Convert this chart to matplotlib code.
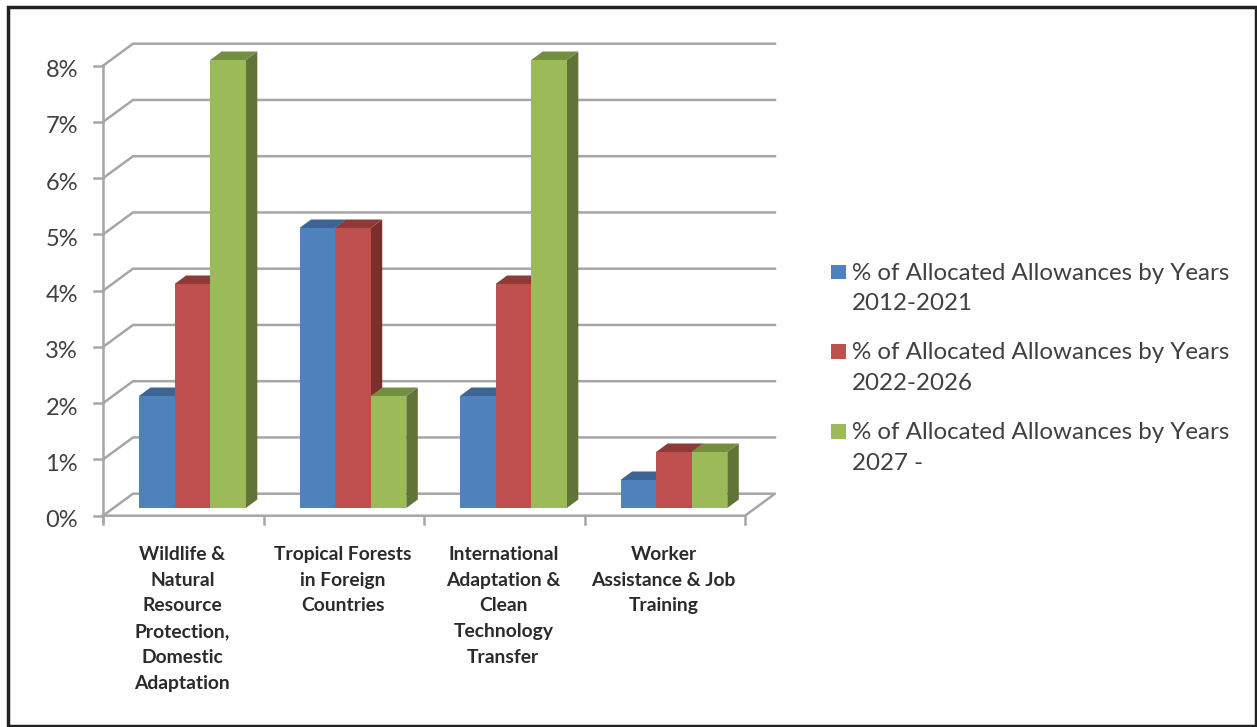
import numpy as np
import matplotlib.pyplot as plt
from matplotlib.patches import Polygon, Rectangle

categories = [
    "Wildlife &\nNatural\nResource\nProtection,\nDomestic\nAdaptation",
    "Tropical Forests\nin Foreign\nCountries",
    "International\nAdaptation &\nClean\nTechnology\nTransfer",
    "Worker\nAssistance & Job\nTraining",
]
series_names = [
    "% of Allocated Allowances by Years\n2012-2021",
    "% of Allocated Allowances by Years\n2022-2026",
    "% of Allocated Allowances by Years\n2027 -",
]
values_2012 = [2, 5, 2, 0.5]
values_2022 = [4, 5, 4, 1]
values_2027 = [8, 2, 8, 1]
y_ticks = [0, 1, 2, 3, 4, 5, 6, 7, 8]

front = ['#4F81BD', '#C0504D', '#9BBB59']
side = ['#385D8A', '#7A2F2C', '#617337']
top = ['#3E6493', '#8E3B38', '#748E41']
grid = '#A6A6A6'
text_col = '#404040'

W, H = 1257, 727
plt.rcParams['font.family'] = ['Lato', 'DejaVu Sans']

fig = plt.figure(figsize=(W / 100, H / 100), dpi=100)
# plot area in pixels: x 103-745, y 65.7-515.7
ax = fig.add_axes([103 / W, 1 - 515.7 / H, 642 / W, 450 / H])
ax.set_xlim(0, 4)
ax.set_ylim(0, 8)
ax.axis('off')

px = 4 / 642      # data units per pixel, x
py = 8 / 450      # data units per pixel, y
wall_dx, wall_dy = 30 * px, 22 * py
bar_dx, bar_dy = 11.5 * px, 8.5 * py
bar_w = 35.6 * px
bar_start = 36 * px
bar_lift = 7.7 * py

# walls and gridlines
for v in y_ticks:
    if v > 0:
        ax.plot([0, wall_dx, 4 + wall_dx], [v, v + wall_dy, v + wall_dy],
                color=grid, lw=1.8, clip_on=False, zorder=1, solid_joinstyle='miter')
    ax.plot([-9 * px, 0], [v, v], color=grid, lw=1.8, clip_on=False, zorder=2)
    ax.text(-25 * px, v - 5 * py, f"{v}%", ha='right', va='center', fontsize=17, color=text_col, clip_on=False)
ax.plot([0, wall_dx, 4 + wall_dx, 4, 0], [0, wall_dy, wall_dy, 0, 0], color=grid, lw=1.8, clip_on=False, zorder=1)
ax.plot([0, 0], [-5 * py, 8], color=grid, lw=1.8, clip_on=False, zorder=2)
for i in range(5):
    ax.plot([i, i], [-8 * py, 0], color=grid, lw=1.8, clip_on=False, zorder=2)

# bars with fake depth
all_values = [values_2012, values_2022, values_2027]
z = 3
for g in range(len(categories)):
    for s, vals in enumerate(all_values):
        x0 = g + bar_start + s * bar_w
        x1 = x0 + bar_w
        y0 = bar_lift
        y1 = vals[g] * 56 / 56.25 + bar_lift
        ax.add_patch(Polygon([(x1, y0), (x1 + bar_dx, y0 + bar_dy), (x1 + bar_dx, y1 + bar_dy), (x1, y1)],
                             fc=side[s], ec='none', zorder=z, clip_on=False))
        ax.add_patch(Polygon([(x0, y1), (x0 + bar_dx, y1 + bar_dy), (x1 + bar_dx, y1 + bar_dy), (x1, y1)],
                             fc=top[s], ec='none', zorder=z, clip_on=False))
        ax.add_patch(Rectangle((x0, y0), bar_w, y1 - y0, fc=front[s], ec='none', zorder=z, clip_on=False))
        z += 1

# category labels
for g, label in enumerate(categories):
    ax.text(g + 0.5 - 1 * px, -30 * py, label, ha='center', va='top', fontsize=13.9, fontweight='bold',
            color='#2b2b2b', linespacing=1.63, clip_on=False)

# legend, drawn by hand so the swatch sits on the first line
for s, name in enumerate(series_names):
    y = 264.5 + s * 80
    fig.add_artist(Rectangle((831 / W, 1 - (y + 14.5) / H), 14.5 / W, 14.5 / H, transform=fig.transFigure,
                             fc=front[s], ec='none'))
    fig.text(852 / W, 1 - (y - 2) / H, name, ha='left', va='top', fontsize=17.4, color=text_col, linespacing=1.57)

# picture frame
fig.add_artist(Rectangle((7.5 / W, 1 - 725.5 / H), 1248 / W, 718.5 / H, transform=fig.transFigure,
                         fc='none', ec='#222222', lw=2.5))

fig.savefig('out.png', dpi=100, facecolor='white')
